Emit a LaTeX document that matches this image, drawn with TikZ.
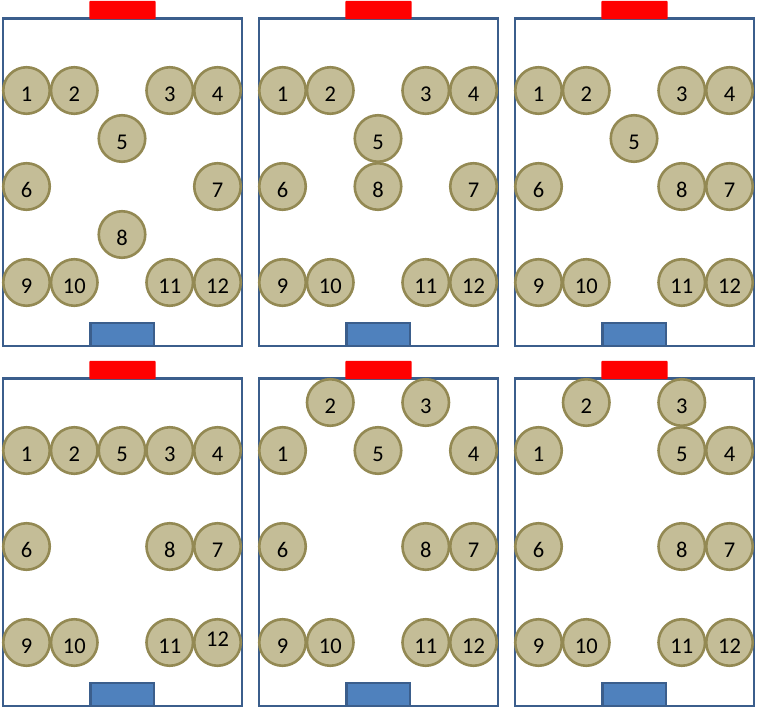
\documentclass[tikz,border=0pt]{standalone}
\usepackage{fontspec}
\setmainfont{Carlito}
\definecolor{seatfill}{HTML}{C4BD97}
\definecolor{seatline}{HTML}{938953}
\definecolor{framecol}{HTML}{3B5E8C}
\definecolor{goalblue}{HTML}{4F81BD}
\definecolor{goalred}{HTML}{FF0000}
\tikzset{
  seat/.style={circle, draw=seatline, fill=seatfill, line width=2.6pt,
    minimum size=46.5pt, inner sep=0pt, font=\fontsize{22.5}{22.5}\selectfont,
    text height=22pt, text depth=0pt},
  raised/.style={text height=8pt},
  framebox/.style={draw=framecol, line width=2.5pt},
  topgoal/.style={fill=goalred, rounded corners=1pt},
  bottomgoal/.style={fill=goalblue, draw=framecol, line width=2.4pt},
}
\newcommand\seatnode[5][]{%
  \node[seat,#1] (p#2s#3) at ({26.5+47.75*#4},{90.5+48*#5}) {#3};}
\newcommand\pitch{%
  \draw[framebox] (2.9,18.4) rectangle (242,346.2);
  \fill[topgoal] (89.3,0.8) rectangle (155.7,19.2);
  \draw[bottomgoal] (90.5,322.8) rectangle (154.2,346.2);}
\begin{document}
\begin{tikzpicture}[x=1pt,y=-1pt]
\useasboundingbox (0,0) rectangle (763,709);
% panel 1
\begin{scope}
  \pitch
  \seatnode{1}{1}{0}{0}\seatnode{1}{2}{1}{0}\seatnode{1}{3}{3}{0}\seatnode{1}{4}{4}{0}
  \seatnode{1}{5}{2}{1}\seatnode{1}{6}{0}{2}\seatnode{1}{7}{4}{2}\seatnode{1}{8}{2}{3}
  \seatnode{1}{9}{0}{4}\seatnode{1}{10}{1}{4}\seatnode{1}{11}{3}{4}\seatnode{1}{12}{4}{4}
\end{scope}
% panel 2
\begin{scope}[shift={(256,0)}]
  \pitch
  \seatnode{2}{1}{0}{0}\seatnode{2}{2}{1}{0}\seatnode{2}{3}{3}{0}\seatnode{2}{4}{4}{0}
  \seatnode{2}{5}{2}{1}\seatnode{2}{6}{0}{2}\seatnode{2}{7}{4}{2}\seatnode{2}{8}{2}{2}
  \seatnode{2}{9}{0}{4}\seatnode{2}{10}{1}{4}\seatnode{2}{11}{3}{4}\seatnode{2}{12}{4}{4}
\end{scope}
% panel 3
\begin{scope}[shift={(512,0)}]
  \pitch
  \seatnode{3}{1}{0}{0}\seatnode{3}{2}{1}{0}\seatnode{3}{3}{3}{0}\seatnode{3}{4}{4}{0}
  \seatnode{3}{5}{2}{1}\seatnode{3}{6}{0}{2}\seatnode{3}{7}{4}{2}\seatnode{3}{8}{3}{2}
  \seatnode{3}{9}{0}{4}\seatnode{3}{10}{1}{4}\seatnode{3}{11}{3}{4}\seatnode{3}{12}{4}{4}
\end{scope}
% panel 4
\begin{scope}[shift={(0,360)}]
  \pitch
  \seatnode{4}{1}{0}{0}\seatnode{4}{2}{1}{0}\seatnode{4}{5}{2}{0}\seatnode{4}{3}{3}{0}\seatnode{4}{4}{4}{0}
  \seatnode{4}{6}{0}{2}\seatnode{4}{8}{3}{2}\seatnode{4}{7}{4}{2}
  \seatnode{4}{9}{0}{4}\seatnode{4}{10}{1}{4}\seatnode{4}{11}{3}{4}\seatnode[raised]{4}{12}{4}{4}
\end{scope}
% panel 5
\begin{scope}[shift={(256,360)}]
  \pitch
  \seatnode{5}{2}{1}{-1}\seatnode{5}{3}{3}{-1}
  \seatnode{5}{1}{0}{0}\seatnode{5}{5}{2}{0}\seatnode{5}{4}{4}{0}
  \seatnode{5}{6}{0}{2}\seatnode{5}{8}{3}{2}\seatnode{5}{7}{4}{2}
  \seatnode{5}{9}{0}{4}\seatnode{5}{10}{1}{4}\seatnode{5}{11}{3}{4}\seatnode{5}{12}{4}{4}
\end{scope}
% panel 6
\begin{scope}[shift={(512,360)}]
  \pitch
  \seatnode{6}{2}{1}{-1}\seatnode{6}{3}{3}{-1}
  \seatnode{6}{1}{0}{0}\seatnode{6}{5}{3}{0}\seatnode{6}{4}{4}{0}
  \seatnode{6}{6}{0}{2}\seatnode{6}{8}{3}{2}\seatnode{6}{7}{4}{2}
  \seatnode{6}{9}{0}{4}\seatnode{6}{10}{1}{4}\seatnode{6}{11}{3}{4}\seatnode{6}{12}{4}{4}
\end{scope}
\end{tikzpicture}
\end{document}
